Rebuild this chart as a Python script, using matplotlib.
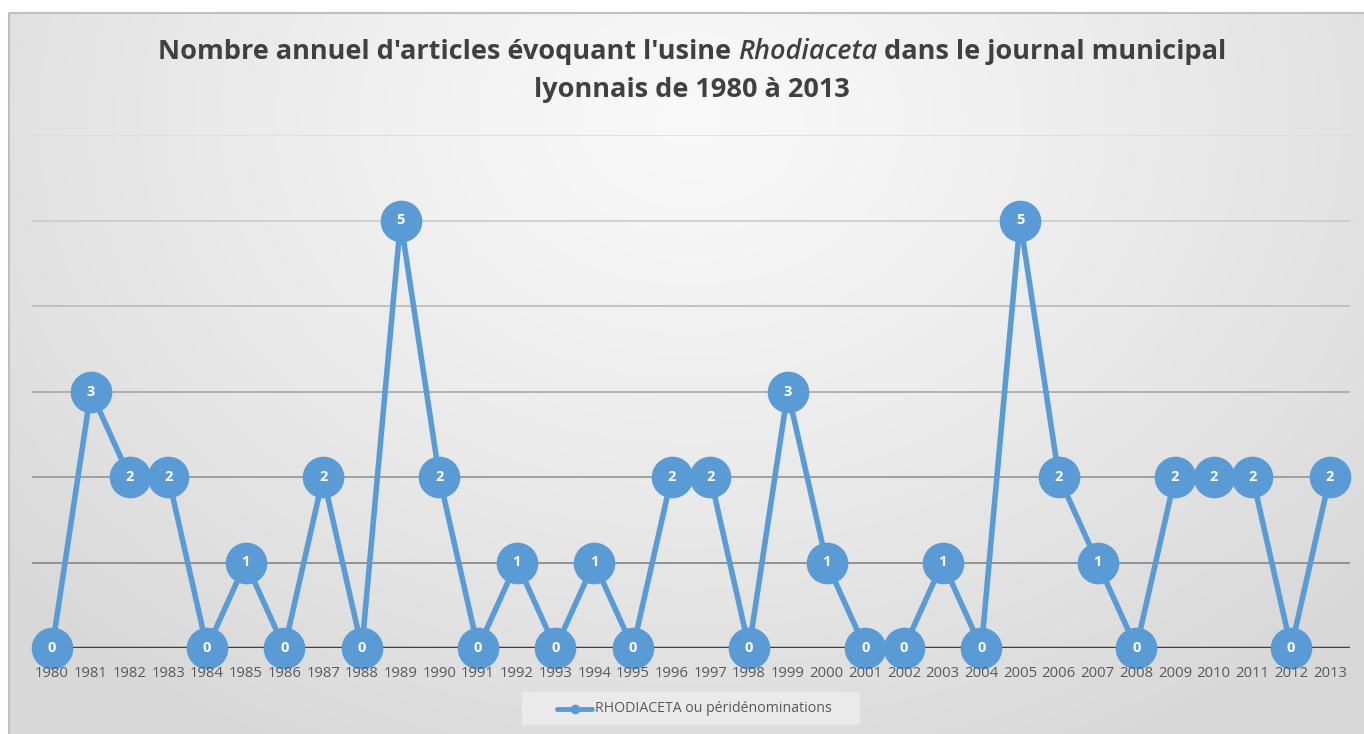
import numpy as np
import matplotlib
matplotlib.use("Agg")
import matplotlib.pyplot as plt
from matplotlib.patches import Rectangle

plt.rcParams['font.family'] = ['Open Sans', 'DejaVu Sans']

years = list(range(1980, 2014))
counts = [0, 3, 2, 2, 0, 1, 0, 2, 0, 5, 2, 0, 1, 0, 1, 0, 2, 2, 0, 3,
          1, 0, 0, 1, 0, 5, 2, 1, 0, 2, 2, 2, 0, 2]
series_name = "RHODIACETA ou péridénominations"
title_l1 = ["Nombre annuel d'articles évoquant l'usine ", "Rhodiaceta",
            " dans le journal municipal"]
title_l2 = "lyonnais de 1980 à 2013"

W, H = 1364, 734
fig = plt.figure(figsize=(W / 100, H / 100), dpi=100)
fig.patch.set_facecolor('white')

# radial gradient background of the chart area
bg = fig.add_axes([0, 0, 1, 1], zorder=-10)
yy, xx = np.mgrid[0:H, 0:W]
d = np.sqrt(((xx - 690) / 900.0) ** 2 + ((yy - 120) / 700.0) ** 2)
d = np.clip(d, 0, 1)
g = 0.975 - 0.125 * d ** 1.2
img = np.dstack([g, g, g])
img[:12, :] = 1.0
img[:, :8] = 1.0
bg.imshow(img, extent=[0, W, H, 0], aspect='auto', interpolation='bilinear')
bg.add_patch(Rectangle((8.5, 12.5), W, H, fill=False, edgecolor='#bfbfbf', lw=1.5))
bg.set_xlim(0, W)
bg.set_ylim(H, 0)
bg.axis('off')

ax = fig.add_axes([32 / W, (H - 648) / H, 1318 / W, 513 / H])
ax.patch.set_alpha(0)
ax.set_xlim(1979.48, 2013.52)
ax.set_ylim(0, 6)
grid_cols = {1: '#8c8c8c', 2: '#9a9a9a', 3: '#ababab', 4: '#bdbdbd', 5: '#cdcdcd', 6: '#dedede'}
for v, c in grid_cols.items():
    ax.axhline(v, color=c, lw=1.3, zorder=1)
ax.axhline(0, color='#404040', lw=2.5, zorder=2)
for s in ax.spines.values():
    s.set_visible(False)
ax.set_yticks([])
ax.set_xticks(years)
ax.set_xticklabels([str(y) for y in years], fontsize=10.7, color='#595959')
ax.tick_params(axis='x', length=0, pad=13)
ax.xaxis.set_zorder(5)

blue = '#5b9bd5'
ax.plot(years, counts, color=blue, lw=4, marker='o', markersize=30,
        markeredgewidth=0, zorder=3, clip_on=False, label=series_name)
for x, v in zip(years, counts):
    ax.text(x, v, str(v), ha='center', va='center', color='white',
            fontsize=10.5, fontweight='bold', zorder=4)

# legend
bg.add_patch(Rectangle((522, 692), 338, 33, facecolor='#ededed', edgecolor='none', alpha=0.85))
bg.plot([557, 592], [709, 709], color=blue, lw=3.5, solid_capstyle='round')
bg.plot([575], [709], 'o', color=blue, markersize=6)
bg.text(595, 709, series_name, fontsize=10.2, color='#595959', va='center', ha='left')

# title with italic part
fig.canvas.draw()
r = fig.canvas.get_renderer()
styles = ['normal', 'italic', 'normal']
weights = ['bold', 'semibold', 'bold']
parts = []
for t, st, wt in zip(title_l1, styles, weights):
    tx = fig.text(0, 1 - 52 / H, t, fontsize=19.5, fontweight=wt, fontstyle=st,
                  color='#404040', va='center', ha='left')
    parts.append(tx)
widths = [p.get_window_extent(r).width for p in parts]
x0 = 692 - sum(widths) / 2
for p, w in zip(parts, widths):
    p.set_x(x0 / W)
    x0 += w
fig.text(692 / W, 1 - 90 / H, title_l2, fontsize=19.5, fontweight='bold',
         color='#404040', va='center', ha='center')

fig.savefig('out.png', dpi=100)
